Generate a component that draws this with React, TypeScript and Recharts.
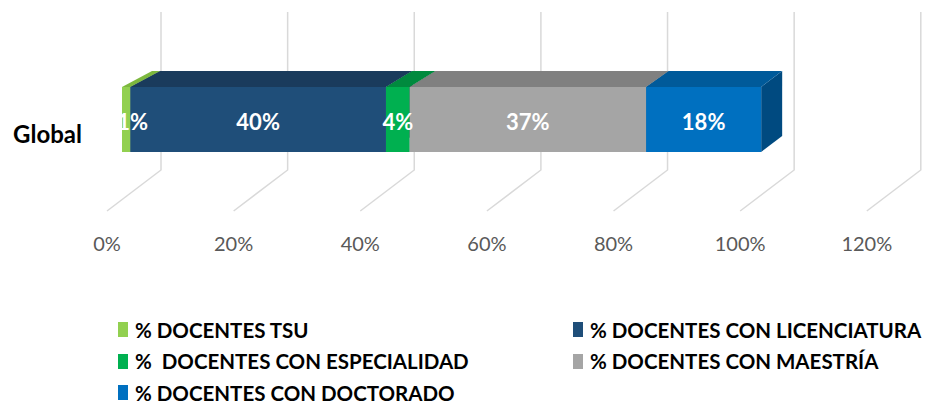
import React from 'react';
import { BarChart, Bar, XAxis, YAxis, CartesianGrid, LabelList } from 'recharts';

// Values (share of teachers by degree)
const categories = ['Global'];
const tsu = [0.013];
const licenciatura = [0.4];
const especialidad = [0.037];
const maestria = [0.37];
const doctorado = [0.18];
const xTicks = [0, 0.2, 0.4, 0.6, 0.8, 1.0, 1.2];

const series = [
  { key: 'tsu', name: '% DOCENTES TSU', values: tsu, front: '#92D050', top: '#7DB83E', side: '#6E9E36' },
  { key: 'lic', name: '% DOCENTES CON LICENCIATURA', values: licenciatura, front: '#1F4E79', top: '#1A3B5C', side: '#17324E' },
  { key: 'esp', name: '%  DOCENTES CON ESPECIALIDAD', values: especialidad, front: '#00B050', top: '#008A3E', side: '#007535' },
  { key: 'mae', name: '% DOCENTES CON MAESTRÍA', values: maestria, front: '#A5A5A5', top: '#808080', side: '#6F6F6F' },
  { key: 'doc', name: '% DOCENTES CON DOCTORADO', values: doctorado, front: '#0070C0', top: '#005A9A', side: '#004A80' },
];

const data = categories.map((name, i) => {
  const row: Record<string, string | number> = { name };
  series.forEach(s => { row[s.key] = s.values[i]; });
  return row;
});

const FONT = 'Lato, "Open Sans", sans-serif';
const PLOT_LEFT = 122;
const FLOOR_LEFT = 107; // front edge of the floor sits a bit left of the bar face
const DEPTH_Y = 16;
// bar depth shrinks a little to the right (slight perspective)
const depthX = (px: number) => 30 - 9 * (px - PLOT_LEFT) / 639;
// project a bar-plane x onto the front floor edge
const toFloor = (x: number) => FLOOR_LEFT + (x - PLOT_LEFT) * (633 / 639);

const Box3D = (props: any) => {
  const { x, y, width, height, front, top, side } = props;
  if (!width || width <= 0) return null;
  const x2 = x + width;
  const dl = depthX(x);
  const dr = depthX(x2);
  return (
    <g>
      <polygon points={`${x2},${y} ${x2 + dr},${y - DEPTH_Y} ${x2 + dr},${y + height - DEPTH_Y} ${x2},${y + height}`} fill={side} />
      <polygon points={`${x},${y} ${x2},${y} ${x2 + dr},${y - DEPTH_Y} ${x + dl},${y - DEPTH_Y}`} fill={top} />
      <rect x={x} y={y} width={width} height={height} fill={front} />
    </g>
  );
};

const gridLine = (p: any) => {
  const x = toFloor(p.x1);
  return (
    <path
      key={`v-${p.index}-${x}`}
      d={`M${x},211 L${x + 54},170 L${x + 54},12`}
      stroke="#D9D9D9"
      strokeWidth={1.5}
      fill="none"
    />
  );
};

const XTick = (p: any) => (
  <text x={toFloor(p.x)} y={243} textAnchor="middle" dominantBaseline="central" fill="#595959" fontSize={20} fontFamily={FONT}>
    {`${Math.round(p.payload.value * 100)}%`}
  </text>
);

const YTick = (p: any) => (
  <text x={82} y={p.y + 14} textAnchor="end" dominantBaseline="central" fill="#000000" fontSize={24} fontWeight="bold" fontFamily={FONT}>
    {p.payload.value}
  </text>
);

const valueLabel = (p: any) => {
  const { x, y, width, height, value } = p;
  const txt = `${Math.round(Number(value) * 100)}%`;
  const fs = 22;
  const tw = txt.length * fs * 0.58;
  let cx = x + width / 2;
  if (cx - tw / 2 < PLOT_LEFT - 2) cx = PLOT_LEFT - 2 + tw / 2;
  return (
    <text x={cx} y={y + height / 2 + 2} textAnchor="middle" dominantBaseline="central" fill="#FFFFFF" fontSize={fs} fontWeight="bold" fontFamily={FONT}>
      {txt}
    </text>
  );
};

const Legend = () => (
  <div style={{ position: 'absolute', left: 0, top: 314, width: 926, fontFamily: FONT }}>
    {series.map((s, i) => {
      const col = i % 2;
      const row = Math.floor(i / 2);
      return (
        <div key={s.key} style={{ position: 'absolute', left: col === 0 ? 118 : 573, top: row * 31.5, height: 31, display: 'flex', alignItems: 'center', whiteSpace: 'pre' }}>
          <span style={{ display: 'inline-block', width: 10, height: 15, background: s.front, marginRight: 7 }} />
          <span style={{ fontSize: 20.5, fontWeight: 'bold', color: '#000' }}>{s.name}</span>
        </div>
      );
    })}
  </div>
);

export default function App() {
  return (
    <div style={{ position: 'absolute', left: 0, top: 0, width: 926, height: 407, background: '#fff' }}>
      <BarChart width={926} height={407} layout="vertical" data={data} margin={{ top: 12, right: 37, left: 0, bottom: 150 }}>
        <CartesianGrid horizontal={false} vertical={gridLine} />
        <XAxis type="number" domain={[0, 1.2]} ticks={xTicks} interval={0} axisLine={false} tickLine={false} tick={<XTick />} height={30} />
        <YAxis type="category" dataKey="name" width={PLOT_LEFT} axisLine={false} tickLine={false} tick={<YTick />} />
        {series.map(s => (
          <Bar
            key={s.key}
            dataKey={s.key}
            name={s.name}
            stackId="a"
            barSize={65}
            isAnimationActive={false}
            shape={(p: any) => <Box3D {...p} front={s.front} top={s.top} side={s.side} />}
          >
            <LabelList dataKey={s.key} content={valueLabel} />
          </Bar>
        ))}
      </BarChart>
      <Legend />
    </div>
  );
}
